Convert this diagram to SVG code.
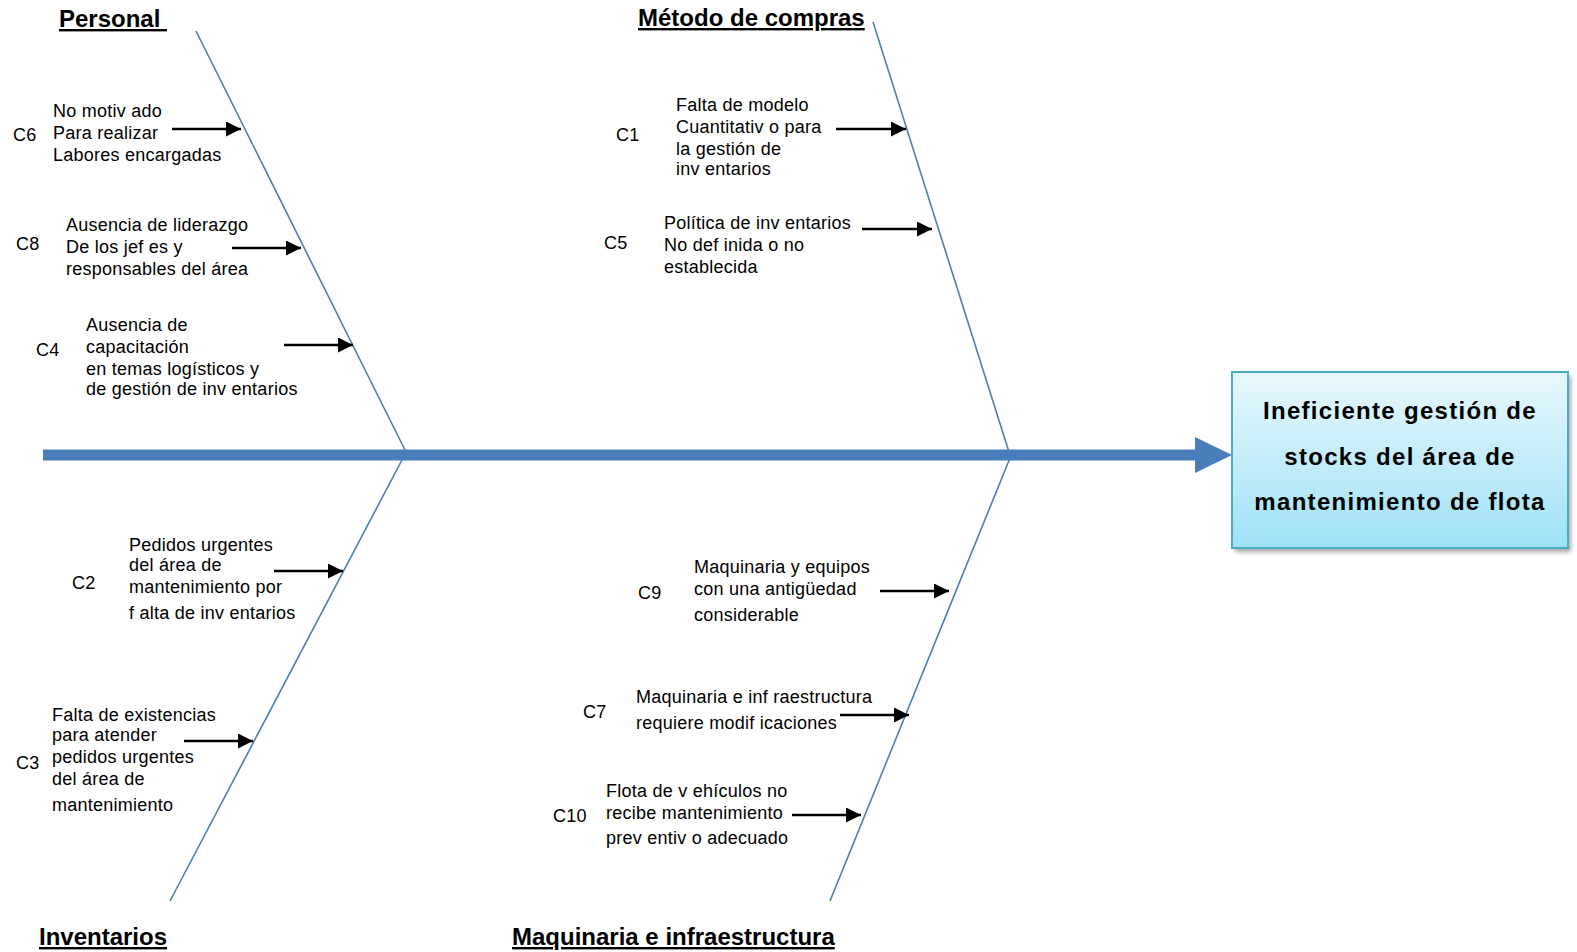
<svg xmlns="http://www.w3.org/2000/svg" width="1577" height="952" viewBox="0 0 1577 952" xml:space="preserve">
<style>
.t{font-family:"Liberation Sans",Arial,sans-serif;font-size:18px;fill:#000;letter-spacing:0.25px}
.h{font-family:"Liberation Sans",Arial,sans-serif;font-size:24px;font-weight:bold;fill:#000;text-decoration:underline}
.e{font-family:"Liberation Sans",Arial,sans-serif;font-size:24px;font-weight:bold;fill:#000;letter-spacing:1.3px}
.b{stroke:#4a7ebb;stroke-width:1.6;fill:none}
.a{stroke:#000;stroke-width:2.6;fill:none;marker-end:url(#ah)}
</style>
<defs>
<marker id="ah" markerUnits="userSpaceOnUse" markerWidth="16" markerHeight="16" refX="15" refY="7.5" orient="auto" viewBox="0 0 16 16">
<path d="M0,0 L15,7.5 L0,15 z" fill="#000"/>
</marker>
<linearGradient id="bg" x1="0" y1="0" x2="0" y2="1">
<stop offset="0" stop-color="#e8f8fd"/>
<stop offset="1" stop-color="#9fe1f5"/>
</linearGradient>
<filter id="sh" x="-10%" y="-10%" width="130%" height="130%">
<feGaussianBlur stdDeviation="2"/>
</filter>
</defs>
<rect width="1577" height="952" fill="#fff"/>

<g id="connectors">
<line class="b" x1="196" y1="31" x2="406" y2="452"/>
<line class="b" x1="873" y1="22" x2="1009" y2="452"/>
<line class="b" x1="403" y1="458" x2="170" y2="901"/>
<line class="b" x1="1010" y1="458" x2="830" y2="901"/>
<line x1="43" y1="455" x2="1197" y2="455" stroke="#4a7ebb" stroke-width="11"/>
<polygon points="1195,437 1232,455 1195,473" fill="#4a7ebb"/>
<line class="a" x1="172" y1="129" x2="241" y2="129"/>
<line class="a" x1="232" y1="248" x2="301" y2="248"/>
<line class="a" x1="284" y1="345" x2="353" y2="345"/>
<line class="a" x1="836" y1="129" x2="906" y2="129"/>
<line class="a" x1="862" y1="229" x2="932" y2="229"/>
<line class="a" x1="274" y1="571" x2="343" y2="571"/>
<line class="a" x1="184" y1="741" x2="253" y2="741"/>
<line class="a" x1="880" y1="591" x2="949" y2="591"/>
<line class="a" x1="840" y1="715" x2="909" y2="715"/>
<line class="a" x1="792" y1="815" x2="861" y2="815"/>
</g>

<g id="cat-personal"><text class="h" x="59" y="27">Personal&#160;</text></g>
<g id="cat-metodo"><text class="h" x="638" y="26">Método de compras</text></g>
<g id="cat-inventarios"><text class="h" x="39" y="945">Inventarios</text></g>
<g id="cat-maquinaria"><text class="h" x="512" y="945">Maquinaria e infraestructura</text></g>

<g id="effect">
<rect x="1235" y="376" width="336" height="176" fill="#000" opacity="0.35" filter="url(#sh)"/>
<rect x="1232" y="372" width="336" height="176" fill="url(#bg)" stroke="#4bacc6" stroke-width="2"/>
<text class="e" x="1400" y="419" text-anchor="middle">Ineficiente gestión de</text>
<text class="e" x="1400" y="465" text-anchor="middle">stocks  del área de</text>
<text class="e" x="1400" y="510" text-anchor="middle">mantenimiento de flota</text>
</g>

<g id="c6">
<text class="t" x="13" y="141">C6</text>
<text class="t" x="53" y="117">No motiv ado</text>
<text class="t" x="53" y="139">Para realizar</text>
<text class="t" x="53" y="161">Labores encargadas</text>
</g>
<g id="c8">
<text class="t" x="16" y="250">C8</text>
<text class="t" x="66" y="231">Ausencia de liderazgo</text>
<text class="t" x="66" y="253">De los jef es y</text>
<text class="t" x="66" y="275">responsables del área</text>
</g>
<g id="c4">
<text class="t" x="36" y="356">C4</text>
<text class="t" x="86" y="331">Ausencia de</text>
<text class="t" x="86" y="353">capacitación</text>
<text class="t" x="86" y="375">en temas logísticos y</text>
<text class="t" x="86" y="395">de gestión de inv entarios</text>
</g>
<g id="c1">
<text class="t" x="616" y="141">C1</text>
<text class="t" x="676" y="111">Falta de modelo</text>
<text class="t" x="676" y="133">Cuantitativ o para</text>
<text class="t" x="676" y="155">la gestión de</text>
<text class="t" x="676" y="175">inv entarios</text>
</g>
<g id="c5">
<text class="t" x="604" y="249">C5</text>
<text class="t" x="664" y="229">Política de inv entarios</text>
<text class="t" x="664" y="251">No def inida o no</text>
<text class="t" x="664" y="273">establecida</text>
</g>
<g id="c2">
<text class="t" x="72" y="589">C2</text>
<text class="t" x="129" y="551">Pedidos urgentes</text>
<text class="t" x="129" y="571">del área de</text>
<text class="t" x="129" y="593">mantenimiento por</text>
<text class="t" x="129" y="619">f alta de inv entarios</text>
</g>
<g id="c3">
<text class="t" x="16" y="769">C3</text>
<text class="t" x="52" y="721">Falta de existencias</text>
<text class="t" x="52" y="741">para atender</text>
<text class="t" x="52" y="763">pedidos urgentes</text>
<text class="t" x="52" y="785">del área de</text>
<text class="t" x="52" y="811">mantenimiento</text>
</g>
<g id="c9">
<text class="t" x="638" y="599">C9</text>
<text class="t" x="694" y="573">Maquinaria  y equipos</text>
<text class="t" x="694" y="595">con  una antigüedad</text>
<text class="t" x="694" y="621">considerable</text>
</g>
<g id="c7">
<text class="t" x="583" y="718">C7</text>
<text class="t" x="636" y="703">Maquinaria  e inf raestructura</text>
<text class="t" x="636" y="729">requiere  modif icaciones</text>
</g>
<g id="c10">
<text class="t" x="553" y="822">C10</text>
<text class="t" x="606" y="797">Flota de v ehículos no</text>
<text class="t" x="606" y="819">recibe mantenimiento</text>
<text class="t" x="606" y="844">prev entiv o adecuado</text>
</g>
</svg>
